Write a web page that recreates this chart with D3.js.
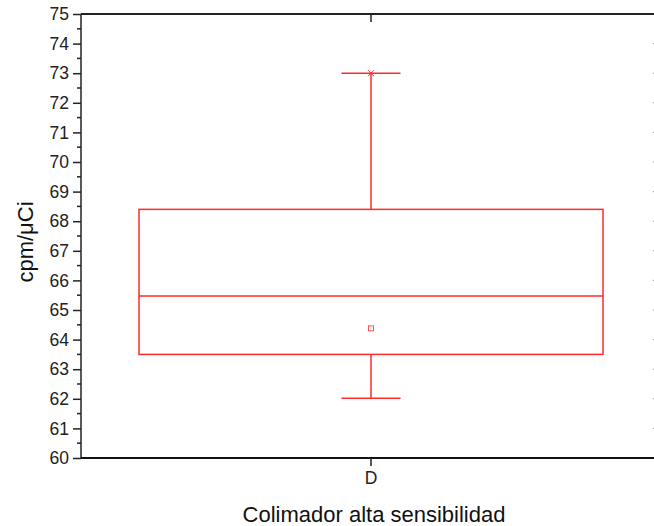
<!DOCTYPE html>
<html lang="en">
<head>
<meta charset="utf-8">
<title>Colimador alta sensibilidad</title>
<script src="https://cdnjs.cloudflare.com/ajax/libs/d3/7.8.5/d3.min.js"></script>
<style>
  body { margin: 0; background: #fff; }
  svg { display: block; font-family: "Liberation Sans", Arial, sans-serif; }
</style>
</head>
<body>
<div id="chart"></div>
<script>
// data
const categories = ["D"];
const whiskerLow = [62.02];
const boxLow = [63.5];
const median = [65.47];
const boxHigh = [68.4];
const whiskerHigh = [73.0];
const meanVal = [64.38];
const maxVal = [73.0];
const yTicks = d3.range(60, 76, 1);

const width = 654, height = 526;
const plotLeft = 81, plotRight = 661, plotTop = 14, plotBottom = 458;

const svg = d3.select("#chart").append("svg")
    .attr("width", width).attr("height", height);

const x = d3.scaleBand().domain(categories).range([plotLeft, plotRight]).paddingInner(0).paddingOuter(0.1);
const y = d3.scaleLinear().domain([60, 75]).range([plotBottom, plotTop]);

const red = "#ff2a2a";
const boxW = 464, capW = 59;

// boxes
const g = svg.append("g");
categories.forEach((c, i) => {
  const cx = x(c) + x.bandwidth() / 2;
  // whiskers
  g.append("line").attr("x1", cx).attr("x2", cx)
    .attr("y1", y(boxHigh[i])).attr("y2", y(whiskerHigh[i]))
    .attr("stroke", red).attr("stroke-width", 1.5);
  g.append("line").attr("x1", cx).attr("x2", cx)
    .attr("y1", y(boxLow[i])).attr("y2", y(whiskerLow[i]))
    .attr("stroke", red).attr("stroke-width", 1.5);
  [whiskerHigh[i], whiskerLow[i]].forEach(v => {
    g.append("line").attr("x1", cx - capW / 2).attr("x2", cx + capW / 2)
      .attr("y1", y(v)).attr("y2", y(v))
      .attr("stroke", red).attr("stroke-width", 1.5);
  });
  g.append("rect")
    .attr("x", cx - boxW / 2).attr("width", boxW)
    .attr("y", y(boxHigh[i])).attr("height", y(boxLow[i]) - y(boxHigh[i]))
    .attr("fill", "none").attr("stroke", red).attr("stroke-width", 1.5);
  g.append("line").attr("x1", cx - boxW / 2).attr("x2", cx + boxW / 2)
    .attr("y1", y(median[i])).attr("y2", y(median[i]))
    .attr("stroke", red).attr("stroke-width", 1.5);
  // mean square
  g.append("rect").attr("x", cx - 2.5).attr("y", y(meanVal[i]) - 2.5)
    .attr("width", 5).attr("height", 5)
    .attr("fill", "none").attr("stroke", red).attr("stroke-width", 0.8);
  // max cross
  const my = y(maxVal[i]);
  g.append("path")
    .attr("d", `M${cx - 3},${my - 3}L${cx + 3},${my + 3}M${cx - 3},${my + 3}L${cx + 3},${my - 3}`)
    .attr("stroke", red).attr("stroke-width", 1);
});

// left axis with minor ticks
const minor = d3.range(60.5, 75, 1);
svg.append("g").selectAll("line").data(minor).join("line")
  .attr("x1", plotLeft - 4).attr("x2", plotLeft).attr("y1", d => y(d)).attr("y2", d => y(d))
  .attr("stroke", "#222").attr("stroke-width", 1.5);
const yAxis = svg.append("g").attr("transform", `translate(${plotLeft},0)`)
  .call(d3.axisLeft(y).tickValues(yTicks).tickFormat(d3.format("d")).tickSize(8).tickPadding(4));
yAxis.select(".domain").attr("stroke", "#222").attr("stroke-width", 1.5).attr("d", `M0,${plotBottom}V${plotTop}`);
yAxis.selectAll(".tick line").attr("stroke", "#222").attr("stroke-width", 1.5);
yAxis.selectAll(".tick text").attr("font-size", 17.5).attr("fill", "#222")
  .attr("font-family", "'Liberation Sans', Arial, sans-serif");

// right axis, inward major ticks (axis line falls just outside the picture)
svg.append("g").selectAll("line").data(yTicks).join("line")
  .attr("x1", plotRight - 8).attr("x2", plotRight).attr("y1", d => y(d)).attr("y2", d => y(d))
  .attr("stroke", "#999").attr("stroke-width", 1);
svg.append("line").attr("x1", plotRight).attr("x2", plotRight).attr("y1", plotTop).attr("y2", plotBottom)
  .attr("stroke", "#222").attr("stroke-width", 2);

// bottom axis
const xAxis = svg.append("g").attr("transform", `translate(0,${plotBottom})`)
  .call(d3.axisBottom(x).tickSize(8).tickPadding(6));
xAxis.select(".domain").attr("stroke", "#111").attr("stroke-width", 2).attr("d", `M${plotLeft},0H${plotRight}`);
xAxis.selectAll(".tick line").attr("stroke", "#222").attr("stroke-width", 1.5);
xAxis.selectAll(".tick text").attr("font-size", 17.5).attr("fill", "#222")
  .attr("font-family", "'Liberation Sans', Arial, sans-serif");

// top axis, inward tick
const topAxis = svg.append("g").attr("transform", `translate(0,${plotTop})`)
  .call(d3.axisTop(x).tickSize(-8).tickFormat(""));
topAxis.select(".domain").attr("stroke", "#222").attr("stroke-width", 2).attr("d", `M${plotLeft},0H${plotRight}`);
topAxis.selectAll(".tick line").attr("stroke", "#222").attr("stroke-width", 1.5);

// labels
svg.append("text").attr("x", 374).attr("y", 522).attr("text-anchor", "middle")
  .attr("font-size", 22).attr("fill", "#111").text("Colimador alta sensibilidad");
svg.append("text").attr("transform", "translate(33,242) rotate(-90)").attr("text-anchor", "middle")
  .attr("font-size", 22).attr("fill", "#111").text("cpm/\u03bcCi");
</script>
</body>
</html>
